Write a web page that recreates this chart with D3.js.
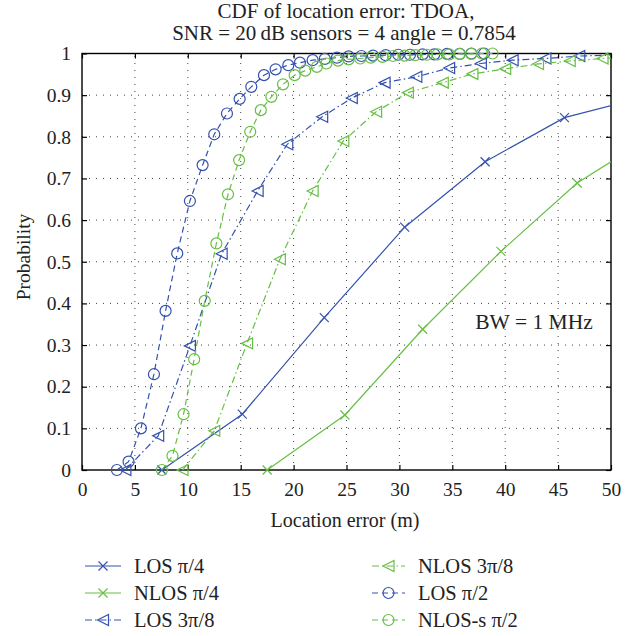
<!DOCTYPE html>
<html lang="en">
<head>
<meta charset="UTF-8">
<title>CDF of location error: TDOA</title>
<script src="https://d3js.org/d3.v7.min.js"></script>
<style>
    body { margin: 0; background: #fff; }
    svg text { font-family: "Liberation Serif", "DejaVu Serif", serif; fill: #222; }
</style>
</head>
<body>
<svg id="chart" width="640" height="636"></svg>
<script>
// ---- data ----
const xTicks = [0, 5, 10, 15, 20, 25, 30, 35, 40, 45, 50];
const yTicks = [0, 0.1, 0.2, 0.3, 0.4, 0.5, 0.6, 0.7, 0.8, 0.9, 1];
const yTickLabels = ["0", "0.1", "0.2", "0.3", "0.4", "0.5", "0.6", "0.7", "0.8", "0.9", "1"];

const losPi4X = [7.55, 15.15, 22.9, 30.5, 38.1, 45.6, 53.2];
const losPi4Y = [0, 0.134, 0.366, 0.583, 0.740, 0.846, 0.896];

const nlosPi4X = [17.5, 24.85, 32.2, 39.6, 46.8, 54.0];
const nlosPi4Y = [0, 0.132, 0.338, 0.525, 0.689, 0.804];

const los3Pi8X = [4.1, 7.2, 10.2, 13.2, 16.6, 19.4, 22.7, 25.5, 28.6, 31.6, 34.7, 37.7, 40.7, 43.8, 47.0, 50.2];
const los3Pi8Y = [0, 0.082, 0.298, 0.519, 0.670, 0.782, 0.848, 0.893, 0.930, 0.944, 0.965, 0.976, 0.984, 0.988, 0.994, 0.996];

const nlos3Pi8X = [9.5, 12.5, 15.6, 18.7, 21.8, 24.7, 27.8, 30.8, 34.1, 36.9, 40.0, 43.1, 46.1, 49.2, 52.3];
const nlos3Pi8Y = [0, 0.094, 0.304, 0.506, 0.670, 0.790, 0.860, 0.906, 0.930, 0.951, 0.963, 0.975, 0.982, 0.988, 0.992];

const losPi2X = [3.3, 4.4, 5.57, 6.8, 7.9, 9.0, 10.2, 11.4, 12.5, 13.7, 14.9, 16.0, 17.2, 18.3, 19.5, 20.6,
                 21.8, 22.95, 24.1, 25.2, 26.4, 27.5, 28.7, 29.9, 31.0, 32.2, 33.3, 34.5, 35.7, 36.8, 38.0];
const losPi2Y = [0, 0.02, 0.10, 0.23, 0.382, 0.520, 0.646, 0.732, 0.806, 0.856, 0.891, 0.920, 0.948, 0.962, 0.972, 0.978,
                 0.984, 0.987, 0.990, 0.993, 0.994, 0.995, 0.996, 0.997, 0.997, 0.998, 0.998, 0.999, 0.999, 1.0, 1.0];

const nlosSPi2X = [7.55, 8.55, 9.6, 10.6, 11.6, 12.7, 13.8, 14.85, 15.9, 16.9, 17.9, 19.0, 20.1, 21.1, 22.2, 23.1,
                   24.2, 25.2, 26.3, 27.3, 28.4, 29.4, 30.5, 31.5, 32.6, 33.6, 34.7, 35.7, 36.8, 37.8, 38.8];
const nlosSPi2Y = [0, 0.034, 0.134, 0.266, 0.406, 0.544, 0.662, 0.744, 0.812, 0.864, 0.896, 0.926, 0.948, 0.959, 0.968, 0.976,
                   0.983, 0.986, 0.988, 0.990, 0.992, 0.994, 0.995, 0.996, 0.997, 0.998, 0.998, 0.999, 0.999, 1.0, 1.0];

const BLUE = "#3452ad";
const GREEN = "#67bf45";

const series = [
    { name: "LOS \u03c0/4",      xs: losPi4X,   ys: losPi4Y,   color: BLUE,  dash: null,      marker: "x" },
    { name: "NLOS \u03c0/4",     xs: nlosPi4X,  ys: nlosPi4Y,  color: GREEN, dash: null,      marker: "x" },
    { name: "LOS 3\u03c0/8",     xs: los3Pi8X,  ys: los3Pi8Y,  color: BLUE,  dash: "7,3,1.5,3", marker: "tri" },
    { name: "NLOS 3\u03c0/8",    xs: nlos3Pi8X, ys: nlos3Pi8Y, color: GREEN, dash: "7,3,1.5,3", marker: "tri" },
    { name: "LOS \u03c0/2",      xs: losPi2X,   ys: losPi2Y,   color: BLUE,  dash: "6,4",     marker: "circle" },
    { name: "NLOS-s \u03c0/2",   xs: nlosSPi2X, ys: nlosSPi2Y, color: GREEN, dash: "6,4",     marker: "circle" }
];

// ---- layout ----
const svg = d3.select("#chart");
const mLeft = 82, mRight = 611, mTop = 53.5, mBottom = 470;

const x = d3.scaleLinear().domain([0, 50]).range([mLeft, mRight]);
const y = d3.scaleLinear().domain([0, 1]).range([mBottom, mTop]);

svg.append("defs").append("clipPath").attr("id", "plotClip")
    .append("rect").attr("x", mLeft).attr("y", mTop - 1).attr("width", mRight - mLeft).attr("height", mBottom - mTop + 2);

// dotted grid
const grid = svg.append("g").attr("stroke", "#444").attr("stroke-width", 1).attr("stroke-dasharray", "1,6");
grid.selectAll("line.gx").data(xTicks.slice(1, -1)).join("line")
    .attr("x1", d => x(d)).attr("x2", d => x(d)).attr("y1", mBottom).attr("y2", mTop);
grid.selectAll("line.gy").data(yTicks.slice(1, -1)).join("line")
    .attr("y1", d => y(d)).attr("y2", d => y(d)).attr("x1", mLeft).attr("x2", mRight);

// axes with inward ticks on all four sides
const fmtY = (d, i) => yTickLabels[i];
svg.append("g").attr("transform", `translate(0,${mBottom})`)
    .call(d3.axisBottom(x).tickValues(xTicks).tickSizeInner(-5).tickSizeOuter(0).tickPadding(12))
    .call(g => g.select(".domain").remove());
svg.append("g").attr("transform", `translate(0,${mTop})`)
    .call(d3.axisTop(x).tickValues(xTicks).tickSizeInner(-5).tickSizeOuter(0).tickFormat(""))
    .call(g => g.select(".domain").remove());
svg.append("g").attr("transform", `translate(${mLeft},0)`)
    .call(d3.axisLeft(y).tickValues(yTicks).tickFormat(fmtY).tickSizeInner(-5).tickSizeOuter(0).tickPadding(11))
    .call(g => g.select(".domain").remove());
svg.append("g").attr("transform", `translate(${mRight},0)`)
    .call(d3.axisRight(y).tickValues(yTicks).tickSizeInner(-5).tickSizeOuter(0).tickFormat(""))
    .call(g => g.select(".domain").remove());
svg.selectAll(".tick line").attr("stroke", "#000").attr("stroke-width", 1.2);
svg.selectAll(".tick text").attr("font-size", 19.5).attr("fill", "#222");

svg.append("rect").attr("x", mLeft).attr("y", mTop).attr("width", mRight - mLeft).attr("height", mBottom - mTop)
    .attr("fill", "none").attr("stroke", "#000").attr("stroke-width", 1.4);

// markers
function drawMarker(g, type, cx, cy, color) {
    if (type === "x") {
        const s = 4.5;
        g.append("path").attr("d", `M${cx - s},${cy - s}L${cx + s},${cy + s}M${cx - s},${cy + s}L${cx + s},${cy - s}`)
            .attr("stroke", color).attr("stroke-width", 1.2).attr("fill", "none");
    } else if (type === "tri") {
        const s = 5.5;
        g.append("path").attr("d", `M${cx - s},${cy}L${cx + s},${cy - s}L${cx + s},${cy + s}Z`)
            .attr("stroke", color).attr("stroke-width", 1.2).attr("fill", "none");
    } else {
        g.append("circle").attr("cx", cx).attr("cy", cy).attr("r", 5.5)
            .attr("stroke", color).attr("stroke-width", 1.2).attr("fill", "none");
    }
}

const line = d3.line().x(d => x(d[0])).y(d => y(d[1]));
const plot = svg.append("g");
series.forEach(s => {
    const pts = s.xs.map((v, i) => [v, s.ys[i]]);
    plot.append("path").datum(pts).attr("d", line)
        .attr("clip-path", "url(#plotClip)")
        .attr("fill", "none").attr("stroke", s.color).attr("stroke-width", 1.2)
        .attr("stroke-dasharray", s.dash);
    const mg = plot.append("g");
    pts.filter(p => p[0] <= 50).forEach(p => drawMarker(mg, s.marker, x(p[0]), y(p[1]), s.color));
});

// text
svg.append("text").attr("x", 346).attr("y", 18).attr("text-anchor", "middle").attr("font-size", 21)
    .text("CDF of location error: TDOA,");
svg.append("text").attr("x", 344).attr("y", 40).attr("text-anchor", "middle").attr("font-size", 21)
    .text("SNR = 20\u2009dB sensors = 4 angle = 0.7854");
svg.append("text").attr("x", 345).attr("y", 527).attr("text-anchor", "middle").attr("font-size", 20)
    .text("Location error (m)");
svg.append("text").attr("transform", "translate(30,257) rotate(-90)").attr("text-anchor", "middle").attr("font-size", 19.5)
    .text("Probability");
svg.append("text").attr("x", 534).attr("y", 329).attr("text-anchor", "middle").attr("font-size", 21.5)
    .text("BW = 1 MHz");

// legend, two columns of three
const legend = svg.append("g");
series.forEach((s, i) => {
    const col = Math.floor(i / 3), row = i % 3;
    const lx = col === 0 ? 85 : 372, ly = 566 + row * 27;
    const lw = col === 0 ? 36 : 33;
    legend.append("line").attr("x1", lx).attr("x2", lx + lw).attr("y1", ly).attr("y2", ly)
        .attr("stroke", s.color).attr("stroke-width", 1.2).attr("stroke-dasharray", s.dash);
    drawMarker(legend, s.marker, lx + lw / 2, ly, s.color);
    legend.append("text").attr("x", lx + lw + 13).attr("y", ly + 6.5).attr("font-size", 20.5).text(s.name);
});
</script>
</body>
</html>
